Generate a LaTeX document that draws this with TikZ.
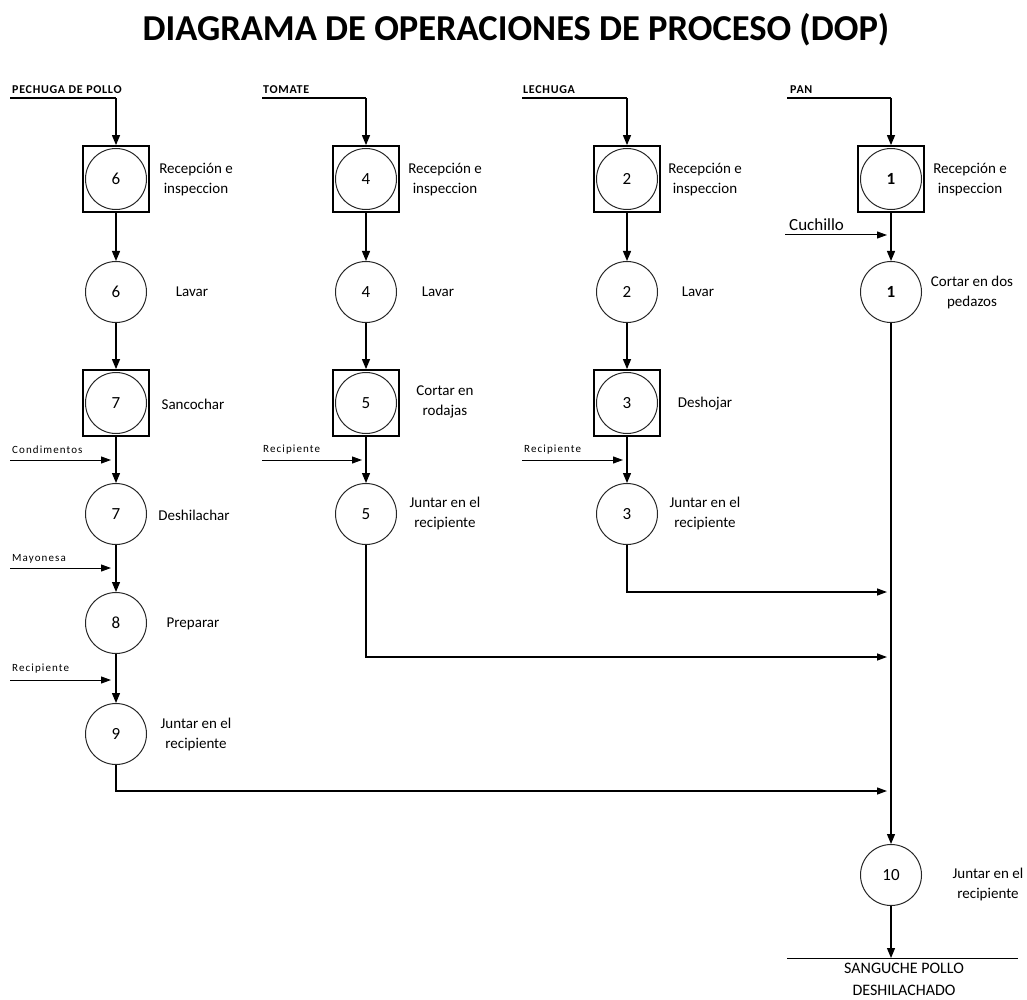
\documentclass[tikz,border=0pt]{standalone}
\usepackage{fontspec}
\setmainfont{Carlito}
\newfontfamily\tinyfont[LetterSpace=10]{Carlito}
\newfontfamily\headfont[LetterSpace=6]{Carlito}
\usetikzlibrary{arrows.meta}

\begin{document}
\begin{tikzpicture}[x=1pt,y=-1pt,
  op/.style={circle,draw=black!85,line width=1pt,minimum size=61pt,inner sep=0pt,font=\fontsize{17}{20}\selectfont},
  opb/.style={op,font=\bfseries\fontsize{17}{20}\selectfont},
  box/.style={rectangle,draw,line width=1.8pt,minimum size=66pt,inner sep=0pt},
  lbl/.style={align=center,font=\fontsize{15}{20}\selectfont},
  flow/.style={line width=1.2pt,-{Triangle[length=10pt,width=8pt]}},
  feed/.style={line width=1pt,-{Triangle[length=10pt,width=7pt]}},
  merge/.style={line width=1.3pt,-{Triangle[length=10pt,width=7pt]}},
  small/.style={font=\tinyfont\fontsize{11}{12}\selectfont,anchor=west,inner sep=0pt},
  head/.style={font=\headfont\bfseries\fontsize{12}{13}\selectfont,anchor=west,inner sep=0pt},
  bar/.style={line width=2pt}]
\useasboundingbox (0,0) rectangle (1027,1000);

% title
\node[font=\bfseries\fontsize{36.5}{40}\selectfont] (title) at (516,30) {DIAGRAMA DE OPERACIONES DE PROCESO (DOP)};

% ---------- PECHUGA DE POLLO ----------
\node[head] (t1) at (12,90) {PECHUGA DE POLLO};
\node[box] (b6) at (116,179) {};
\node[op] (a6) at (116,179) {6};
\node[lbl] (la6) at (196,180) {Recepción e\\inspeccion};
\node[op] (c6) at (116,292) {6};
\node[lbl] (lc6) at (192,292) {Lavar};
\node[box] (b7) at (116,403) {};
\node[op] (a7) at (116,403) {7};
\node[lbl] (la7) at (193,404) {Sancochar};
\node[op] (c7) at (116,514) {7};
\node[lbl] (lc7) at (194,515) {Deshilachar};
\node[op] (c8) at (116,623) {8};
\node[lbl] (lc8) at (193,624) {Preparar};
\node[op] (c9) at (116,734) {9};
\node[lbl] (lc9) at (196,734) {Juntar en el\\recipiente};

\coordinate (h1) at (10,98);
\draw[bar] (h1) -- (h1 -| b6.north);
\draw[flow] (h1 -| b6.north) -- (b6.north);
\draw[flow] (b6.south) -- (c6.north);
\draw[flow] (c6.south) -- (b7.north);
\draw[flow] (b7.south) -- (c7.north);
\draw[flow] (c7.south) -- (c8.north);
\draw[flow] (c8.south) -- (c9.north);

\node[small] (n1) at (12,450) {Condimentos};
\coordinate (f1s) at (10,460); \coordinate (f1e) at (111,460);
\draw[feed] (f1s) -- (f1e);
\node[small] (n2) at (12,559) {Mayonesa};
\coordinate (f2s) at (10,568); \coordinate (f2e) at (111,568);
\draw[feed] (f2s) -- (f2e);
\node[small] (n3) at (12,669) {Recipiente};
\coordinate (f3s) at (10,680); \coordinate (f3e) at (111,680);
\draw[feed] (f3s) -- (f3e);

% ---------- TOMATE ----------
\node[head] (t2) at (263,90) {TOMATE};
\node[box] (b4) at (366,179) {};
\node[op] (a4) at (366,179) {4};
\node[lbl] (la4) at (445,180) {Recepción e\\inspeccion};
\node[op] (c4) at (366,292) {4};
\node[lbl] (lc4) at (438,292) {Lavar};
\node[box] (b5) at (366,403) {};
\node[op] (a5) at (366,403) {5};
\node[lbl] (la5) at (445,402) {Cortar en\\rodajas};
\node[op] (c5) at (366,514) {5};
\node[lbl] (lc5) at (445,513) {Juntar en el\\recipiente};

\coordinate (h2) at (262,98);
\draw[bar] (h2) -- (h2 -| b4.north);
\draw[flow] (h2 -| b4.north) -- (b4.north);
\draw[flow] (b4.south) -- (c4.north);
\draw[flow] (c4.south) -- (b5.north);
\draw[flow] (b5.south) -- (c5.north);
\node[small] (n4) at (263,450) {Recipiente};
\coordinate (f4s) at (262,460); \coordinate (f4e) at (362,460);
\draw[feed] (f4s) -- (f4e);

% ---------- LECHUGA ----------
\node[head] (t3) at (523,90) {LECHUGA};
\node[box] (b2) at (627,179) {};
\node[op] (a2) at (627,179) {2};
\node[lbl] (la2) at (705,180) {Recepción e\\inspeccion};
\node[op] (c2) at (627,292) {2};
\node[lbl] (lc2) at (698,292) {Lavar};
\node[box] (b3) at (627,403) {};
\node[op] (a3) at (627,403) {3};
\node[lbl] (la3) at (705,404) {Deshojar};
\node[op] (c3) at (627,514) {3};
\node[lbl] (lc3) at (705,513) {Juntar en el\\recipiente};

\coordinate (h3) at (522,98);
\draw[bar] (h3) -- (h3 -| b2.north);
\draw[flow] (h3 -| b2.north) -- (b2.north);
\draw[flow] (b2.south) -- (c2.north);
\draw[flow] (c2.south) -- (b3.north);
\draw[flow] (b3.south) -- (c3.north);
\node[small] (n5) at (524,450) {Recipiente};
\coordinate (f5s) at (522,460); \coordinate (f5e) at (623,460);
\draw[feed] (f5s) -- (f5e);

% ---------- PAN ----------
\node[head] (t4) at (790,90) {PAN};
\node[box] (b1) at (891,179) {};
\node[opb] (a1) at (891,179) {1};
\node[lbl] (la1) at (970,180) {Recepción e\\inspeccion};
\node[opb] (c1) at (891,292) {1};
\node[lbl] (lc1) at (972,292) {Cortar en dos\\pedazos};
\node[op] (c10) at (891,875) {10};
\node[lbl] (lc10) at (988,884) {Juntar en el\\recipiente};

\coordinate (h4) at (787,98);
\draw[bar] (h4) -- (h4 -| b1.north);
\draw[flow] (h4 -| b1.north) -- (b1.north);
\draw[flow] (b1.south) -- (c1.north);
\node[font=\fontsize{17}{20}\selectfont,anchor=west,inner sep=0pt] (n6) at (789,225) {Cuchillo};
\coordinate (f6s) at (785,235); \coordinate (f6e) at (887,235);
\draw[feed] (f6s) -- (f6e);
\draw[flow] (c1.south) -- (c10.north);

% joins into the main line
\coordinate (m3) at (627,592); \coordinate (m3e) at (887,592);
\draw[merge] (c3.south) -- (m3) -- (m3e);
\coordinate (m2) at (366,657); \coordinate (m2e) at (887,657);
\draw[merge] (c5.south) -- (m2) -- (m2e);
\coordinate (m1) at (116,791); \coordinate (m1e) at (887,791);
\draw[merge] (c9.south) -- (m1) -- (m1e);

% final product
\coordinate (e1) at (787,958); \coordinate (e2) at (1018,958);
\coordinate (e0) at (891,958);
\draw[line width=1pt] (e1) -- (e2);
\draw[flow] (c10.south) -- (e0);
\node[lbl,anchor=north,font=\fontsize{16}{22}\selectfont] (prod) at (904,960) {SANGUCHE POLLO\\DESHILACHADO};
\end{tikzpicture}
\end{document}
